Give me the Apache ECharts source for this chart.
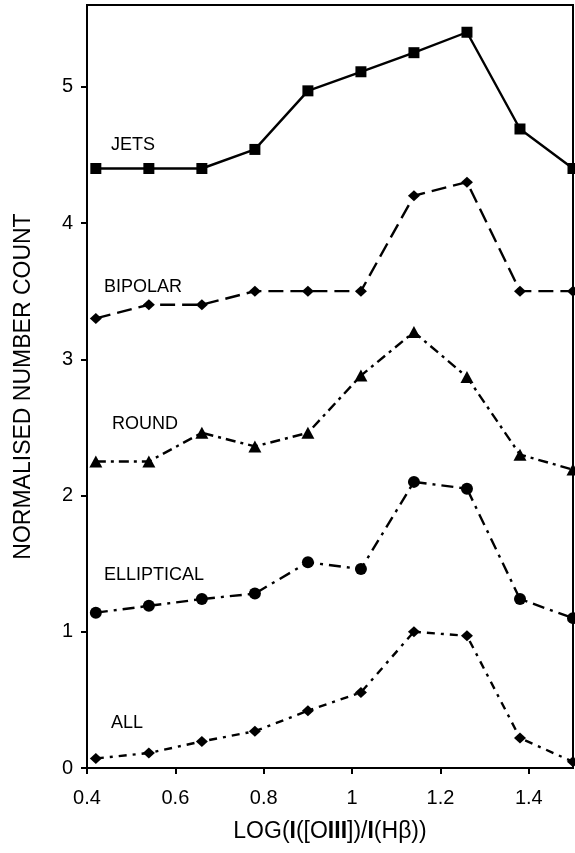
<!DOCTYPE html>
<html>
<head>
<meta charset="utf-8">
<script src="https://cdn.jsdelivr.net/npm/echarts@6/dist/echarts.min.js"></script>
<style>
  html, body { margin: 0; padding: 0; background: #fff; }
  #chart { width: 575px; height: 853px; }
</style>
</head>
<body>
<div id="chart"></div>
<script>
// log([OIII]/Hbeta) bin centres
const logRatio = [0.42, 0.54, 0.66, 0.78, 0.90, 1.02, 1.14, 1.26, 1.38, 1.50];

// normalised counts per morphological class (offset vertically)
const jets       = [4.40, 4.40, 4.40, 4.54, 4.97, 5.11, 5.25, 5.40, 4.69, 4.40];
const bipolar    = [3.30, 3.40, 3.40, 3.50, 3.50, 3.50, 4.20, 4.30, 3.50, 3.50];
const round      = [2.25, 2.25, 2.46, 2.36, 2.46, 2.88, 3.20, 2.87, 2.30, 2.19];
const elliptical = [1.14, 1.19, 1.24, 1.28, 1.51, 1.46, 2.10, 2.05, 1.24, 1.10];
const allPN      = [0.07, 0.11, 0.195, 0.27, 0.42, 0.555, 1.00, 0.97, 0.22, 0.045];

const classNames = ['JETS', 'BIPOLAR', 'ROUND', 'ELLIPTICAL', 'ALL'];

const xTicks = [0.4, 0.6, 0.8, 1.0, 1.2, 1.4];
const yTicks = [0, 1, 2, 3, 4, 5];

const FONT = '"Liberation Sans", Arial, Helvetica, sans-serif';

function pairs(values) {
  return logRatio.map((x, i) => [x, values[i]]);
}

function lineSeries(name, values, symbol, size, dash) {
  return {
    name: name,
    type: 'line',
    data: pairs(values),
    symbol: symbol,
    symbolSize: size,
    showSymbol: true,
    clip: false,
    animation: false,
    lineStyle: { color: '#000', width: 2.4, type: dash, cap: 'butt' },
    itemStyle: { color: '#000', borderWidth: 0 },
    emphasis: { disabled: true }
  };
}

const chart = echarts.init(document.getElementById('chart'), null, { renderer: 'canvas' });

// class captions placed beside the left end of each curve
const captionPos = [
  [111, 145],
  [104, 287],
  [112, 424],
  [104, 575],
  [111, 723]
];

chart.setOption({
  backgroundColor: '#fff',
  animation: false,
  grid: {
    left: 87, right: 2, top: 5, bottom: 85,
    show: true, borderColor: '#000', borderWidth: 2
  },
  xAxis: {
    type: 'value',
    min: 0.4, max: 1.5,
    interval: 0.2,
    name: 'LOG({b|I}([O{b|III}])/{b|I}(Hβ))',
    nameLocation: 'middle',
    nameGap: 52,
    nameTextStyle: {
      fontFamily: FONT, fontSize: 23, color: '#000',
      rich: { b: { fontFamily: FONT, fontSize: 23, fontWeight: 'bold', color: '#000' } }
    },
    axisLine: { show: true, lineStyle: { color: '#000', width: 2 } },
    axisTick: { show: true, inside: false, length: 6, lineStyle: { color: '#000', width: 2 }, customValues: xTicks },
    axisLabel: {
      customValues: xTicks,
      margin: 20,
      fontFamily: FONT, fontSize: 20, color: '#000',
      formatter: v => String(Math.round(v * 10) / 10)
    },
    splitLine: { show: false }
  },
  yAxis: {
    type: 'value',
    min: 0, max: 5.6,
    interval: 1,
    name: 'NORMALISED NUMBER COUNT',
    nameLocation: 'middle',
    nameGap: 52,
    nameTextStyle: { fontFamily: FONT, fontSize: 23, color: '#000' },
    axisLine: { show: true, lineStyle: { color: '#000', width: 2 } },
    axisTick: { show: true, inside: false, length: 6, lineStyle: { color: '#000', width: 2 }, customValues: yTicks },
    axisLabel: {
      customValues: yTicks,
      margin: 14,
      fontFamily: FONT, fontSize: 20, color: '#000'
    },
    splitLine: { show: false }
  },
  series: [
    lineSeries(classNames[0], jets, 'rect', 11, 'solid'),
    lineSeries(classNames[1], bipolar, 'diamond', [12, 11], [15, 7]),
    lineSeries(classNames[2], round, 'triangle', [13, 12], [10, 5, 3, 5]),
    lineSeries(classNames[3], elliptical, 'circle', 12, [12, 6, 3, 6]),
    lineSeries(classNames[4], allPN, 'diamond', [12, 11], [8, 6, 3, 6])
  ],
  graphic: classNames.map((txt, i) => ({
    type: 'text',
    left: captionPos[i][0],
    top: captionPos[i][1] - 9,
    style: { text: txt, fill: '#000', font: '18px ' + FONT }
  }))
});
</script>
</body>
</html>
